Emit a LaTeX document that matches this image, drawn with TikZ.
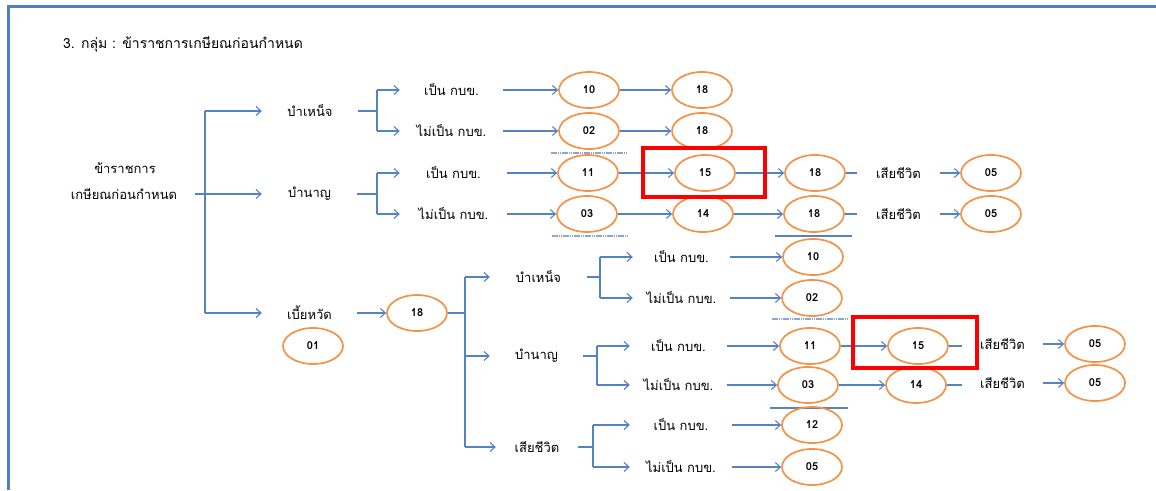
\documentclass[tikz,border=0pt]{standalone}
\usepackage{fontspec}
\usetikzlibrary{shapes.geometric,arrows.meta}
\newfontfamily\thai[Script=Thai]{Loma}
\definecolor{frameblue}{RGB}{79,129,189}
\definecolor{lineblue}{RGB}{84,130,196}
\definecolor{ovalorange}{RGB}{244,146,72}
\definecolor{markred}{RGB}{255,0,0}
\tikzset{
  lbl/.style={font=\thai\fontsize{13}{15}\selectfont, inner sep=0pt},
  num/.style={ellipse, draw=ovalorange, line width=1.7pt, minimum width=60pt,
    minimum height=36pt, inner sep=0pt, font=\thai\bfseries\fontsize{11}{13}\selectfont},
  ln/.style={draw=lineblue, line width=1.1pt},
  arr/.style={ln, -{Straight Barb[length=5pt,width=9pt,line width=1.1pt]}},
  rule/.style={draw=lineblue, line width=1.1pt},
  dotrule/.style={draw=lineblue!70, line width=1.2pt, dash pattern=on 1.5pt off 0.7pt},
  hilite/.style={draw=markred, line width=4.5pt},
}
\begin{document}
\begin{tikzpicture}[x=1pt,y=-1pt]
\useasboundingbox (0,0) rectangle (1156,490);
\fill[white] (0,0) rectangle (1156,490);
% frame
\draw[frameblue, line width=3pt] (8,490) -- (8,6) -- (1156,6);

% title
\node[anchor=west, font=\thai\fontsize{14}{16}\selectfont, inner sep=0pt] (title) at (63,44)
  {3. กลุ่ม : ข้าราชการเกษียณก่อนกำหนด};

% root
\node[lbl] (rootA) at (125,168) {ข้าราชการ};
\node[lbl, minimum width=142pt] (rootB) at (124,194) {เกษียณก่อนกำหนด};
\coordinate (f1) at (205,194);
\coordinate (f1t) at (205,111);
\coordinate (f1b) at (205,313);

% first level
\node[lbl, minimum width=96pt] (bn) at (310,111) {บำเหน็จ};
\node[lbl, minimum width=95pt] (bnn) at (309.5,194) {บำนาญ};
\node[lbl, minimum width=95pt] (by) at (309.5,313) {เบี้ยหวัด};

\draw[ln] (rootB.east) -- (f1);
\draw[ln] (f1t) -- (f1b);
\draw[arr] (f1t) -- (bn.west);
\draw[arr] (f1) -- (bnn.west);
\draw[arr] (f1b) -- (by.west);

% ---- upper: บำเหน็จ
\node[lbl, minimum width=103pt] (a1) at (451.5,90) {เป็น กบข.};
\node[lbl, minimum width=103pt] (a2) at (451.5,131) {ไม่เป็น กบข.};
\coordinate (f2t) at (377,90);
\coordinate (f2b) at (377,131);
\draw[ln] (bn.east) -- (bn.east -| f2t);
\draw[ln] (f2t) -- (f2b);
\draw[arr] (f2t) -- (a1.west);
\draw[arr] (f2b) -- (a2.west);
\node[num] (n10) at (589,90) {10};
\node[num] (n18a) at (702,90) {18};
\node[num] (n02) at (589,131) {02};
\node[num] (n18b) at (702,131) {18};
\draw[arr] (a1.east) -- (n10.west);
\draw[arr] (n10.east) -- (n18a.west);
\draw[arr] (a2.east) -- (n02.west);
\draw[arr] (n02.east) -- (n18b.west);
\draw[dotrule] (551,153) -- (627,153);

% ---- upper: บำนาญ
\node[lbl, minimum width=107pt] (b1) at (453.5,173) {เป็น กบข.};
\node[lbl, minimum width=107pt] (b2) at (453.5,214) {ไม่เป็น กบข.};
\coordinate (f3t) at (377,173);
\coordinate (f3b) at (377,214);
\draw[ln] (bnn.east) -- (bnn.east -| f3t);
\draw[ln] (f3t) -- (f3b);
\draw[arr] (f3t) -- (b1.west);
\draw[arr] (f3b) -- (b2.west);
\node[num] (n11) at (588,173) {11};
\node[num] (n15a) at (705,173) {15};
\node[num] (n18c) at (815,173) {18};
\node[lbl, minimum width=83pt] (d1) at (898.5,173) {เสียชีวิต};
\node[num] (n05a) at (991,173) {05};
\node[num] (n03) at (587,214) {03};
\node[num] (n14a) at (703,214) {14};
\node[num] (n18d) at (814,214) {18};
\node[lbl, minimum width=83pt] (d2) at (898.5,214) {เสียชีวิต};
\node[num] (n05b) at (991,214) {05};
\draw[arr] (b1.east) -- (n11.west);
\draw[arr] (n11.east) -- (n15a.west);
\draw[arr] (n15a.east) -- (n18c.west);
\draw[ln] (n18c.east) -- (d1.west);
\draw[arr] (d1.east) -- (n05a.west);
\draw[arr] (b2.east) -- (n03.west);
\draw[arr] (n03.east) -- (n14a.west);
\draw[arr] (n14a.east) -- (n18d.west);
\draw[ln] (n18d.east) -- (d2.west);
\draw[arr] (d2.east) -- (n05b.west);
\draw[dotrule] (552,236) -- (627,236);
\draw[rule] (775,236) -- (852,236);
\draw[hilite] (643,148) rectangle (765,197);

% ---- lower: เบี้ยหวัด
\node[num] (n01) at (313,346) {01};
\node[num] (n18e) at (417,313) {18};
\draw[arr] (by.east) -- (n18e.west);
\coordinate (f4t) at (465,277);
\coordinate (f4m) at (465,356);
\coordinate (f4b) at (465,447);
\draw[ln] (n18e.east) -- (n18e.east -| f4t);
\draw[ln] (f4t) -- (f4b);
\node[lbl, minimum width=97pt] (c1) at (538.5,277) {บำเหน็จ};
\node[lbl, minimum width=93pt] (c2) at (536.5,356) {บำนาญ};
\node[lbl, minimum width=82pt] (c3) at (537,447) {เสียชีวิต};
\draw[arr] (f4t) -- (c1.west);
\draw[arr] (f4m) -- (c2.west);
\draw[arr] (f4b) -- (c3.west);

% lower บำเหน็จ
\node[lbl, minimum width=97pt] (e1) at (681.5,257) {เป็น กบข.};
\node[lbl, minimum width=97pt] (e2) at (681.5,298) {ไม่เป็น กบข.};
\coordinate (f5t) at (600,257);
\coordinate (f5b) at (600,298);
\draw[ln] (c1.east) -- (c1.east -| f5t);
\draw[ln] (f5t) -- (f5b);
\draw[arr] (f5t) -- (e1.west);
\draw[arr] (f5b) -- (e2.west);
\node[num] (n10b) at (813,257) {10};
\node[num] (n02b) at (812,298) {02};
\draw[arr] (e1.east) -- (n10b.west);
\draw[arr] (e2.east) -- (n02b.west);
\draw[dotrule] (772,319) -- (848,319);

% lower บำนาญ
\node[lbl, minimum width=97pt] (g1) at (678.5,346) {เป็น กบข.};
\node[lbl, minimum width=97pt] (g2) at (678.5,385) {ไม่เป็น กบข.};
\coordinate (f6t) at (597,346);
\coordinate (f6b) at (597,385);
\draw[ln] (c2.east) -- (c2.east -| f6t);
\draw[ln] (f6t) -- (f6b);
\draw[arr] (f6t) -- (g1.west);
\draw[arr] (f6b) -- (g2.west);
\node[num] (n11b) at (810,346) {11};
\node[num] (n15b) at (918,346) {15};
\node[lbl, minimum width=81pt] (h1) at (1002.5,344) {เสียชีวิต};
\node[num] (n05c) at (1095,344) {05};
\node[num] (n03b) at (808,385) {03};
\node[num] (n14b) at (916,385) {14};
\node[lbl, minimum width=81pt] (h2) at (1002.5,383) {เสียชีวิต};
\node[num] (n05d) at (1095,383) {05};
\draw[arr] (g1.east) -- (n11b.west);
\draw[arr] (n11b.east) -- (n15b.west);
\draw[ln] (n15b.east) -- (h1.west |- n15b.east);
\draw[arr] (h1.east) -- (n05c.west);
\draw[arr] (g2.east) -- (n03b.west);
\draw[arr] (n03b.east) -- (n14b.west);
\draw[ln] (n14b.east) -- (h2.west |- n14b.east);
\draw[arr] (h2.east) -- (n05d.west);
\draw[rule] (770,408) -- (848,408);
\draw[hilite] (853,317) rectangle (977,368);

% lower เสียชีวิต
\node[lbl, minimum width=102pt] (k1) at (681,425) {เป็น กบข.};
\node[lbl, minimum width=102pt] (k2) at (681,467) {ไม่เป็น กบข.};
\coordinate (f7t) at (593,425);
\coordinate (f7b) at (593,467);
\draw[ln] (c3.east) -- (c3.east -| f7t);
\draw[ln] (f7t) -- (f7b);
\draw[arr] (f7t) -- (k1.west);
\draw[arr] (f7b) -- (k2.west);
\node[num] (n12) at (812,425) {12};
\node[num] (n05e) at (812,467) {05};
\draw[arr] (k1.east) -- (n12.west);
\draw[arr] (k2.east) -- (n05e.west);
\end{tikzpicture}
\end{document}
